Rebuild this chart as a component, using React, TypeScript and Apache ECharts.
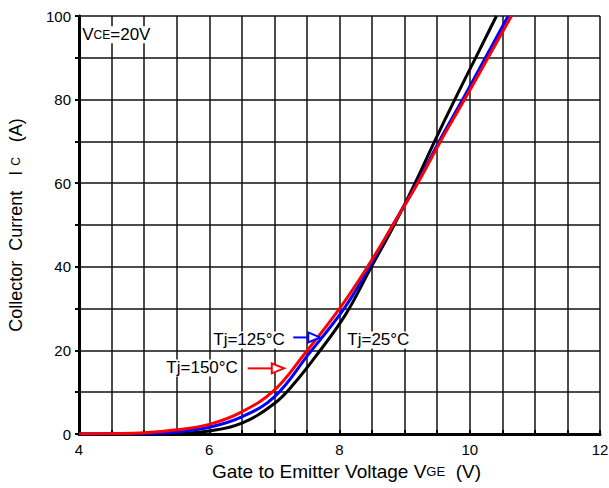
import React, { useEffect, useRef } from "react";
import * as echarts from "echarts";

// Gate voltage (V) / collector current (A) pairs
const vgeBlack = [4, 5, 5.5, 6, 6.5, 7, 7.3, 7.65, 8.09, 8.49, 8.84, 9.16, 9.46, 9.77, 10.09, 10.41];
const icBlack = [0, 0, 0.1, 0.7, 2.6, 7.3, 12, 18.9, 28.5, 40, 50, 60, 70, 80, 90, 100];

const vgeBlue = [4, 5, 5.5, 6, 6.5, 7, 7.52, 8.07, 8.46, 8.82, 9.19, 9.53, 9.89, 10.24, 10.59];
const icBlue = [0, 0.1, 0.5, 1.6, 4.1, 8.9, 19, 30, 40, 50, 60, 70, 80, 90, 100];

const vgeRed = [4, 4.5, 5, 5.5, 6, 6.5, 7, 7.45, 8.0, 8.43, 8.82, 9.2, 9.55, 9.92, 10.28, 10.64];
const icRed = [0, 0.1, 0.3, 1.0, 2.3, 5.3, 10.5, 18.9, 30, 40, 50, 60, 70, 80, 90, 100];

const seriesNames = ["Tj=25°C", "Tj=125°C", "Tj=150°C"];
const seriesColors = ["#000000", "#0000ff", "#ff0000"];

// annotation anchors in data coordinates
const label125 = [7.16, 22.5];
const arrow125 = [7.29, 7.52, 7.7, 23.1]; // start x, head base x, tip x, y
const label150 = [6.44, 15.8];
const arrow150 = [6.59, 6.96, 7.15, 15.7];
const label25 = [8.12, 22.5];
const labelVce = [4.05, 95.5];

const FONT = "'Liberation Sans', Arial, sans-serif";

function zip(xs: number[], ys: number[]) {
  return xs.map((x, i) => [x, ys[i]]);
}

export default function App() {
  const ref = useRef<HTMLDivElement>(null);
  useEffect(() => {
    if (!ref.current) return;
    const chart = echarts.init(ref.current, null, { renderer: "svg" });
    const data = [zip(vgeBlack, icBlack), zip(vgeBlue, icBlue), zip(vgeRed, icRed)];
    chart.setOption({
      animation: false,
      textStyle: { fontFamily: FONT },
      grid: { left: 79, right: 9, top: 16, bottom: 54, containLabel: false, outerBoundsMode: "none" },
      xAxis: {
        type: "value",
        min: 4,
        max: 12,
        interval: 0.5,
        name: "{a|Gate to Emitter Voltage V}{b|GE}{a|  (V)}",
        nameLocation: "middle",
        nameGap: 25,
        nameTextStyle: {
          padding: [0, 0, 0, 14],
          rich: {
            a: { fontSize: 19, color: "#000", fontFamily: FONT },
            b: { fontSize: 13, color: "#000", fontFamily: FONT },
          },
        },
        axisLine: { lineStyle: { color: "#000", width: 3 } },
        axisTick: { inside: true, length: 4, lineStyle: { color: "#000", width: 2 } },
        axisLabel: {
          color: "#000",
          fontSize: 15,
          fontFamily: FONT,
          margin: 8,
          formatter: (v: number) => (v % 2 === 0 ? String(v) : ""),
        },
        splitLine: { show: true, lineStyle: { color: "#111", width: 1.5 } },
      },
      yAxis: {
        type: "value",
        min: 0,
        max: 100,
        interval: 10,
        name: "{a|Collector  Current   I }{b|C}{a|   (A)}",
        nameLocation: "middle",
        nameGap: 54,
        nameTextStyle: {
          rich: {
            a: { fontSize: 18, color: "#000", fontFamily: FONT },
            b: { fontSize: 12, color: "#000", fontFamily: FONT },
          },
        },
        axisLine: { show: true, lineStyle: { color: "#000", width: 3 } },
        axisTick: { show: true, inside: false, length: 4, lineStyle: { color: "#000", width: 2 } },
        axisLabel: {
          color: "#000",
          fontSize: 15,
          fontFamily: FONT,
          margin: 8,
          formatter: (v: number) => (v % 20 === 0 ? String(v) : ""),
        },
        splitLine: { show: true, lineStyle: { color: "#111", width: 1.5 } },
      },
      series: data.map((d, i) => ({
        name: seriesNames[i],
        type: "line",
        data: d,
        smooth: 0.4,
        symbol: "none",
        lineStyle: { color: seriesColors[i], width: 3 },
        z: 3 + i,
      })),
    });

    const px = (x: number, y: number) => chart.convertToPixel({ gridIndex: 0 }, [x, y]) as number[];
    const arrow = (a: number[], color: string) => {
      const s = px(a[0], a[3]);
      const b = px(a[1], a[3]);
      const t = px(a[2], a[3]);
      return [
        { type: "line", shape: { x1: s[0], y1: s[1], x2: b[0], y2: b[1] }, style: { stroke: color, lineWidth: 2 }, z: 20 },
        {
          type: "polygon",
          shape: { points: [[b[0], b[1] - 5], [t[0], t[1]], [b[0], b[1] + 5]] },
          style: { stroke: color, fill: "#fff", lineWidth: 2 },
          z: 20,
        },
      ];
    };
    const p125 = px(label125[0], label125[1]);
    const p150 = px(label150[0], label150[1]);
    const p25 = px(label25[0], label25[1]);
    const pV = px(labelVce[0], labelVce[1]);
    const txt = (p: number[], text: string, align: string) => ({
      type: "text",
      x: p[0],
      y: p[1],
      z: 20,
      style: {
        text,
        fontSize: 17,
        fontFamily: FONT,
        fill: "#000",
        align,
        verticalAlign: "middle",
        backgroundColor: "#fff",
      },
    });
    chart.setOption({
      graphic: [
        txt(p125, "Tj=125°C", "right"),
        txt(p150, "Tj=150°C", "right"),
        txt(p25, "Tj=25°C", "left"),
        {
          type: "text",
          x: pV[0],
          y: pV[1],
          z: 20,
          style: {
            text: "{a|V}{b|CE}{a|=20V}",
            fill: "#000",
            align: "left",
            verticalAlign: "middle",
            backgroundColor: "#fff",
            rich: {
              a: { fontSize: 17, fontFamily: FONT, fill: "#000" },
              b: { fontSize: 12, fontFamily: FONT, fill: "#000" },
            },
          },
        },
        ...arrow(arrow125, "#0000ff"),
        ...arrow(arrow150, "#ff0000"),
      ],
    });
    return () => chart.dispose();
  }, []);
  return (
    <div
      ref={ref}
      style={{ position: "absolute", left: 0, top: 0, width: 609, height: 488, background: "#fff" }}
    />
  );
}
